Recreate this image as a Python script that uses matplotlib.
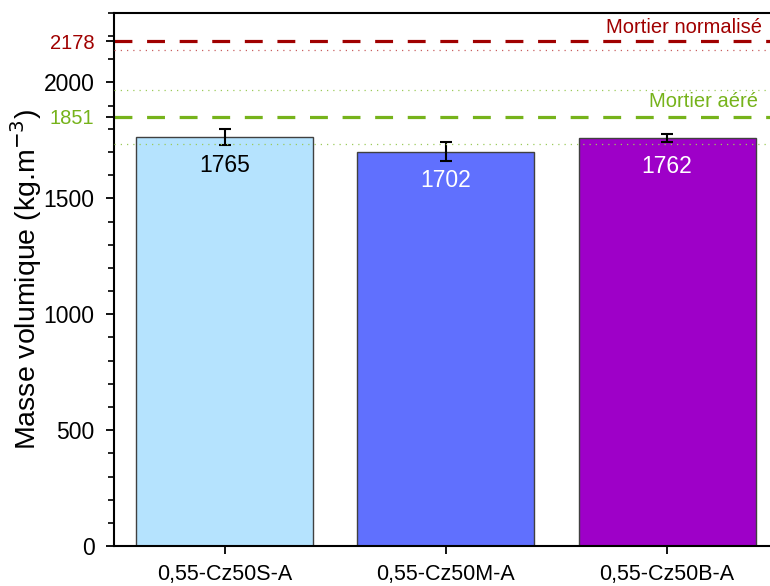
import matplotlib
matplotlib.use('Agg')
import matplotlib.pyplot as plt
import matplotlib.ticker as ticker

plt.rcParams['font.family'] = ['Liberation Sans', 'DejaVu Sans']

# data
categories = ['0,55-Cz50S-A', '0,55-Cz50M-A', '0,55-Cz50B-A']
densities = [1765, 1702, 1762]
errors = [35, 40, 17]
bar_colors = ['#B5E3FE', '#6070FE', '#9E00C8']
label_colors = ['black', 'white', 'white']

ref_normal = 2178
ref_normal_dotted = [2141]
ref_aere = 1851
ref_aere_dotted = [1733, 1969]

red = '#A00000'
green = '#76B31B'

fig = plt.figure(figsize=(7.7, 5.86), dpi=100, facecolor='white')
ax = fig.add_axes([0.148, 0.068, 0.862, 0.910])

x = range(len(categories))
ax.bar(x, densities, width=0.8, color=bar_colors, edgecolor='#404040', linewidth=1, zorder=2)
ax.errorbar(x, densities, yerr=errors, fmt='none', ecolor='black', elinewidth=1.5,
            capsize=4, capthick=1.5, zorder=3)

for i, (v, c) in enumerate(zip(densities, label_colors)):
    ax.annotate(str(v), (i, v), xytext=(0, -12.5), textcoords='offset points',
                ha='center', va='top', fontsize=16.5, color=c, zorder=4)

# reference lines
ax.axhline(ref_normal, color=red, lw=2.3, dashes=(5.6, 4.6), zorder=1)
for v in ref_normal_dotted:
    ax.axhline(v, color='#C86060', lw=0.9, linestyle=(0, (1, 4)), zorder=4)
ax.axhline(ref_aere, color=green, lw=2.3, dashes=(5.6, 4.6), zorder=1)
for v in ref_aere_dotted:
    ax.axhline(v, color='#9CCB5A', lw=0.9, linestyle=(0, (1, 4)), zorder=4)

ax.text(2.43, 2237, 'Mortier normalisé', color=red, fontsize=14.5, ha='right', va='center')
ax.text(2.41, 1918, 'Mortier aéré', color=green, fontsize=14.5, ha='right', va='center')

ax.set_xlim(-0.5, 2.5)
ax.set_ylim(0, 2300)

ax.set_xticks(list(x))
ax.set_xticklabels(categories, fontsize=15.5)
ytick_vals = [0, 500, 1000, 1500, 2000, ref_aere, ref_normal]
ax.set_yticks(ytick_vals)
ax.set_yticklabels([str(v) for v in ytick_vals], fontsize=16.5)
ax.yaxis.set_minor_locator(ticker.MultipleLocator(100))
ax.tick_params(axis='both', which='major', direction='out', length=6, width=1.3)
ax.tick_params(axis='y', which='major', pad=8)
ax.tick_params(axis='y', which='minor', direction='out', length=4, width=1.2)
ax.tick_params(axis='x', which='major', pad=7)

for lbl in ax.get_yticklabels():
    if lbl.get_text() == str(ref_normal):
        lbl.set_color(red)
        lbl.set_fontsize(14.5)
    elif lbl.get_text() == str(ref_aere):
        lbl.set_color(green)
        lbl.set_fontsize(14.5)

for spine in ax.spines.values():
    spine.set_linewidth(1.5)

ax.set_ylabel('Masse volumique (kg.m$^{-3}$)', fontsize=20.5, labelpad=0)

fig.savefig('out.png', dpi=100, facecolor='white')
